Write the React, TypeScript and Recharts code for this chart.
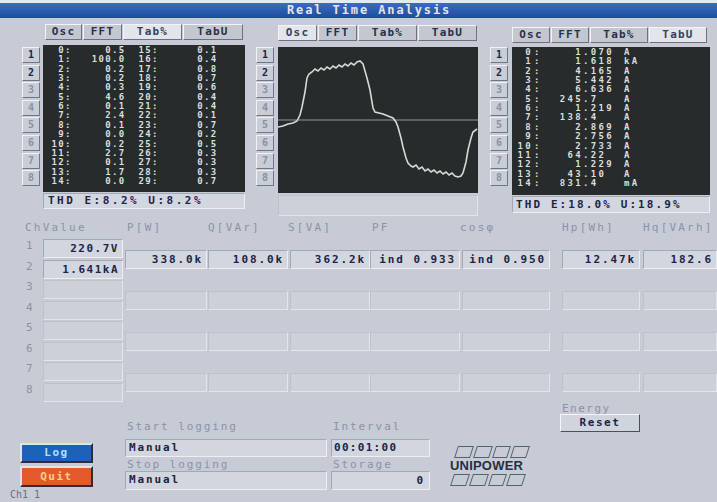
import React from 'react';
import { LineChart, Line, XAxis, YAxis, ReferenceLine } from 'recharts';

// oscilloscope trace (t = pixels from panel left, v = pixels above zero line)
const waveTime = [0, 5, 10, 15, 19, 22, 24, 27, 29, 31, 34, 37, 40, 43, 46, 49, 52, 55, 58, 61, 64, 67, 70, 73, 76, 79, 82, 85, 89, 92, 95, 97, 101, 105, 110, 115, 118, 120, 123, 125, 128, 130, 133, 135, 138, 141, 144, 147, 150, 153, 156, 159, 162, 165, 168, 171, 174, 177, 180, 183, 185, 188, 190, 193, 195, 199];
const waveAmp = [-7, -6, -4, -3, -1, 5, 13, 28, 42, 46, 48, 51, 49, 52, 50, 53, 51, 54, 52, 55, 53, 56, 54, 57, 55, 58, 59, 56, 42, 30, 12, 8, 7, 6, 4, 2, -2, -7, -18, -27, -38, -43, -46, -47, -45, -49, -47, -51, -49, -52, -50, -53, -51, -54, -52, -55, -53, -56, -57, -56, -53, -42, -30, -18, -12, -9];
const waveData = waveTime.map((t, i) => ({ t, v: waveAmp[i] }));

const titleText = 'Real Time Analysis';
const tabLabels = ['Osc', 'FFT', 'Tab%', 'TabU'];
const channelButtons = ['1', '2', '3', '4', '5', '6', '7', '8'];

const pctOrderLow = ['0', '1', '2', '3', '4', '5', '6', '7', '8', '9', '10', '11', '12', '13', '14'];
const pctValuesLow = ['0.5', '100.0', '0.2', '0.2', '0.3', '4.6', '0.1', '2.4', '0.1', '0.0', '0.2', '2.7', '0.1', '1.7', '0.0'];
const pctOrderHigh = ['15', '16', '17', '18', '19', '20', '21', '22', '23', '24', '25', '26', '27', '28', '29'];
const pctValuesHigh = ['0.1', '0.4', '0.8', '0.7', '0.6', '0.4', '0.4', '0.1', '0.7', '0.2', '0.5', '0.3', '0.3', '0.3', '0.7'];
const ampValues = ['1.070', '1.618', '4.165', '5.442', '6.636', '245.7', '1.219', '138.4', '2.869', '2.756', '2.733', '64.22', '1.229', '43.10', '831.4'];
const ampUnits = ['A', 'kA', 'A', 'A', 'A', 'A', 'A', 'A', 'A', 'A', 'A', 'A', 'A', 'A', 'mA'];

const thdLeft = 'THD E:8.2% U:8.2%';
const thdRight = 'THD E:18.0% U:18.9%';

const tableHeaders = ['ChValue', 'P[W]', 'Q[VAr]', 'S[VA]', 'PF', 'cosφ', 'Hp[Wh]', 'Hq[VArh]'];
const rowLabels = ['1', '2', '3', '4', '5', '6', '7', '8'];
const chValues = ['220.7V', '1.641kA'];
const powerValues = ['338.0k', '108.0k', '362.2k', 'ind 0.933', 'ind 0.950', '12.47k', '182.6'];

// layout
const headerX = [25, 127, 208, 288, 372, 460, 562, 643];
const colX = [125, 208, 290, 370, 462, 562, 643];
const colW = [82, 80, 80, 90, 88, 78, 74];

const BG = '#c7cbd6';
const DARK = '#272b2c';
const INK = '#1e2448';
const DIM = '#8c92a8';
const MONO = '"DejaVu Sans Mono", "Liberation Mono", monospace';

const abs = (x: number, y: number, w?: number, h?: number): React.CSSProperties => ({
  position: 'absolute', left: x, top: y, width: w, height: h,
});

const sunken: React.CSSProperties = {
  background: '#d2d6de',
  borderTop: '1px solid #a2a8b6',
  borderLeft: '1px solid #a2a8b6',
  borderBottom: '1px solid #eceef3',
  borderRight: '1px solid #eceef3',
  boxSizing: 'border-box',
};

const faint: React.CSSProperties = {
  background: '#ccd0d9',
  borderTop: '1px solid #bcc1cc',
  borderLeft: '1px solid #bcc1cc',
  borderBottom: '1px solid #e2e5eb',
  borderRight: '1px solid #e2e5eb',
  boxSizing: 'border-box',
};

function Tabs({ x, y, widths, active }: { x: number; y: number; widths: number[]; active: number }) {
  let cx = x;
  return (
    <>
      {tabLabels.map((lab, i) => {
        const left = cx;
        cx += widths[i] + 1;
        return (
          <div key={lab} style={{
            ...abs(left, y, widths[i], 16), boxSizing: 'border-box',
            background: i === active ? '#e2e5ea' : '#c3c7cf',
            border: '1px solid #6c7280', borderTopColor: '#f2f4f6', borderLeftColor: '#f2f4f6',
            font: `bold 11px ${MONO}`, letterSpacing: 1.2, color: i === active ? '#3a4058' : '#2a3048',
            textAlign: 'center', lineHeight: '14px',
          }}>{lab}</div>
        );
      })}
    </>
  );
}

function SideButtons({ x, y }: { x: number; y: number }) {
  return (
    <>
      {channelButtons.map((b, i) => (
        <div key={b} style={{
          ...abs(x, y + i * 17.6, 18, 16), boxSizing: 'border-box',
          background: '#c9cdd5', border: '1px solid #70768a', borderTopColor: '#f0f2f5', borderLeftColor: '#f0f2f5',
          font: `bold 10px ${MONO}`, color: i < 2 ? INK : '#8a90a6', textAlign: 'center', lineHeight: '14px',
        }}>{b}</div>
      ))}
    </>
  );
}

function DecimalText({ right, top, value, boxW }: { right: number; top: number; value: string; boxW: number }) {
  const [ip, fp] = value.split('.');
  return (
    <>
      <span style={{ position: 'absolute', left: right - boxW, top, width: boxW, textAlign: 'right' }}>{ip}</span>
      <span style={{ position: 'absolute', left: right, top }}>{fp !== undefined ? '.' + fp : ''}</span>
    </>
  );
}

function Waveform() {
  return (
    <LineChart width={200} height={146} data={waveData} margin={{ top: 0, right: 0, bottom: 0, left: 0 }}>
      <XAxis dataKey="t" type="number" domain={[0, 200]} hide />
      <YAxis type="number" domain={[-73, 73]} hide />
      <ReferenceLine y={0} stroke="#8e959c" strokeWidth={1.2} />
      <Line type="linear" dataKey="v" stroke="#d6dad6" strokeWidth={1.6} dot={false} isAnimationActive={false} />
    </LineChart>
  );
}

export default function App() {
  const rowTop = (i: number) => 46 + i * 9.35;
  const txt: React.CSSProperties = { font: `bold 9px ${MONO}`, lineHeight: '9.3px', color: '#dadedb' };

  return (
    <div style={{ position: 'relative', width: 717, height: 502, background: BG, overflow: 'hidden', fontFamily: MONO }}>
      <style>{'body{margin:0}'}</style>

      {/* title bar */}
      <div style={{ ...abs(0, 0, 717, 3), background: '#e6e9f0' }} />
      <div style={{ ...abs(0, 3, 717, 15), background: 'linear-gradient(#3a6cc0, #1d4c9c)' }} />
      <div style={{ ...abs(287, 4), font: `bold 12px ${MONO}`, letterSpacing: 1.9, color: '#e4e6ea', lineHeight: '13px', whiteSpace: 'pre' }}>{titleText}</div>

      {/* left panel: Tab% */}
      <Tabs x={45} y={24} widths={[37, 39, 59, 60]} active={2} />
      <SideButtons x={22} y={47} />
      <div style={{ ...abs(43, 45, 202, 147), background: DARK }} />
      <div style={{ ...abs(0, 0), ...txt, letterSpacing: 1.3 }}>
        {pctOrderLow.map((o, i) => (
          <React.Fragment key={'l' + o}>
            <span style={{ position: 'absolute', left: 46, top: rowTop(i), width: 19, textAlign: 'right' }}>{o}</span>
            <span style={{ position: 'absolute', left: 65, top: rowTop(i) }}>:</span>
            <DecimalText right={112} top={rowTop(i)} value={pctValuesLow[i]} boxW={30} />
            <span style={{ position: 'absolute', left: 136, top: rowTop(i), width: 16, textAlign: 'right' }}>{pctOrderHigh[i]}</span>
            <span style={{ position: 'absolute', left: 152, top: rowTop(i) }}>:</span>
            <DecimalText right={204} top={rowTop(i)} value={pctValuesHigh[i]} boxW={14} />
          </React.Fragment>
        ))}
      </div>
      <div style={{ ...abs(43, 193, 202, 16), ...sunken, font: `bold 11px ${MONO}`, letterSpacing: 2.5, color: INK, paddingLeft: 4, lineHeight: '14px' }}>{thdLeft}</div>

      {/* middle panel: Osc */}
      <Tabs x={278} y={25} widths={[39, 39, 59, 59]} active={0} />
      <SideButtons x={256} y={47} />
      <div style={{ ...abs(278, 47, 200, 146), background: DARK }}>
        <Waveform />
      </div>
      <div style={{ ...abs(278, 195, 200, 21), ...faint }} />

      {/* right panel: TabU */}
      <Tabs x={512} y={27} widths={[38, 38, 58, 58]} active={3} />
      <SideButtons x={490} y={47} />
      <div style={{ ...abs(512, 47, 198, 148), background: DARK }} />
      <div style={{ ...abs(0, 0), ...txt, letterSpacing: 2.3 }}>
        {ampValues.map((v, i) => (
          <React.Fragment key={'r' + i}>
            <span style={{ position: 'absolute', left: 514, top: rowTop(i) + 2, width: 19, textAlign: 'right' }}>{pctOrderLow[i]}</span>
            <span style={{ position: 'absolute', left: 534, top: rowTop(i) + 2 }}>:</span>
            <DecimalText right={583} top={rowTop(i) + 2} value={v} boxW={30} />
            <span style={{ position: 'absolute', left: 624, top: rowTop(i) + 2 }}>{ampUnits[i]}</span>
          </React.Fragment>
        ))}
      </div>
      <div style={{ ...abs(512, 196, 198, 17), ...sunken, font: `bold 11px ${MONO}`, letterSpacing: 2.1, color: INK, paddingLeft: 3, lineHeight: '15px' }}>{thdRight}</div>

      {/* measurement table */}
      {tableHeaders.map((h, i) => (
        <div key={h} style={{ ...abs(headerX[i], 221), font: `11px ${MONO}`, letterSpacing: 2.2, color: DIM, whiteSpace: 'pre' }}>{h}</div>
      ))}
      {rowLabels.map((r, i) => (
        <div key={'row' + r} style={{ ...abs(26, 239 + i * 20.5), font: `11px ${MONO}`, color: DIM }}>{r}</div>
      ))}
      {rowLabels.map((r, i) => (
        <div key={'cv' + r} style={{
          ...abs(43, 239 + i * 20.5, 80, 19), ...(i < 2 ? sunken : faint),
          font: `bold 11px ${MONO}`, letterSpacing: 1.5, color: INK, textAlign: 'right', paddingRight: 3, lineHeight: '17px',
        }}>{chValues[i] ?? ''}</div>
      ))}
      {[0, 1, 2, 3].map((k) =>
        colX.map((x, c) => (
          <div key={`p${k}-${c}`} style={{
            ...abs(x, 250 + k * 41, colW[c], 19), ...(k === 0 ? sunken : faint),
            font: `bold 11px ${MONO}`, letterSpacing: 1.9, color: INK, textAlign: 'right', paddingRight: 3, lineHeight: '17px',
            whiteSpace: 'pre', overflow: 'hidden',
          }}>{k === 0 ? powerValues[c] : ''}</div>
        )),
      )}

      {/* logging controls */}
      <div style={{ ...abs(127, 420), font: `11px ${MONO}`, letterSpacing: 1.9, color: DIM, whiteSpace: 'pre' }}>Start logging</div>
      <div style={{ ...abs(125, 439, 202, 18), ...sunken, font: `bold 11px ${MONO}`, letterSpacing: 1.9, color: INK, paddingLeft: 3, lineHeight: '15px' }}>Manual</div>
      <div style={{ ...abs(127, 458), font: `11px ${MONO}`, letterSpacing: 1.9, color: DIM, whiteSpace: 'pre' }}>Stop logging</div>
      <div style={{ ...abs(125, 471, 202, 19), ...sunken, font: `bold 11px ${MONO}`, letterSpacing: 1.9, color: INK, paddingLeft: 3, lineHeight: '15px' }}>Manual</div>

      <div style={{ ...abs(333, 420), font: `11px ${MONO}`, letterSpacing: 1.9, color: DIM }}>Interval</div>
      <div style={{ ...abs(331, 439, 99, 18), ...sunken, font: `bold 11px ${MONO}`, letterSpacing: 1.3, color: INK, paddingLeft: 2, lineHeight: '15px' }}>00:01:00</div>
      <div style={{ ...abs(333, 458), font: `11px ${MONO}`, letterSpacing: 1.9, color: DIM }}>Storage</div>
      <div style={{ ...abs(331, 471, 99, 19), ...sunken, font: `bold 11px ${MONO}`, color: INK, textAlign: 'right', paddingRight: 6, lineHeight: '17px' }}>0</div>

      <div style={{ ...abs(562, 402), font: `11px ${MONO}`, letterSpacing: 1.5, color: DIM }}>Energy</div>
      <div style={{
        ...abs(560, 414, 80, 18), boxSizing: 'border-box', background: '#d0d4dc',
        border: '1px solid #4a5060', borderTopColor: '#f4f5f8', borderLeftColor: '#f4f5f8',
        font: `bold 11px ${MONO}`, letterSpacing: 1.6, color: INK, textAlign: 'center', lineHeight: '16px',
      }}>Reset</div>

      {/* logo */}
      <div style={{ ...abs(456, 446, 72, 12), transform: 'skewX(-18deg)', display: 'flex', gap: 3 }}>
        {[0, 1, 2, 3].map((s) => (
          <div key={'a' + s} style={{ flex: 1, border: '1px solid #5a6070' }} />
        ))}
      </div>
      <div style={{ ...abs(450, 458), font: `bold 13px "Liberation Sans", Arial, sans-serif`, color: '#2a2e3c', letterSpacing: 0.2 }}>UNIPOWER</div>
      <div style={{ ...abs(452, 474, 72, 12), transform: 'skewX(-18deg)', display: 'flex', gap: 3 }}>
        {[0, 1, 2, 3].map((s) => (
          <div key={'b' + s} style={{ flex: 1, border: '1px solid #5a6070' }} />
        ))}
      </div>

      {/* Log / Quit buttons */}
      <div style={{
        ...abs(20, 443, 73, 20), boxSizing: 'border-box', background: '#1e62b8',
        border: '2px solid #2a2e36', borderTopColor: '#dfe3ea', borderLeftColor: '#dfe3ea',
        font: `bold 11px ${MONO}`, letterSpacing: 1.5, color: '#b8dcf6', textAlign: 'center', lineHeight: '16px',
      }}>Log</div>
      <div style={{
        ...abs(20, 466, 73, 21), boxSizing: 'border-box', background: '#e25a2c',
        border: '2px solid #2a2e36', borderTopColor: '#dfe3ea', borderLeftColor: '#dfe3ea',
        font: `bold 11px ${MONO}`, letterSpacing: 1.5, color: '#f6cf8a', textAlign: 'center', lineHeight: '17px',
      }}>Quit</div>

      <div style={{ ...abs(10, 489), font: `10px ${MONO}`, lineHeight: '12px', color: '#6a7080' }}>Ch1 1</div>
    </div>
  );
}
